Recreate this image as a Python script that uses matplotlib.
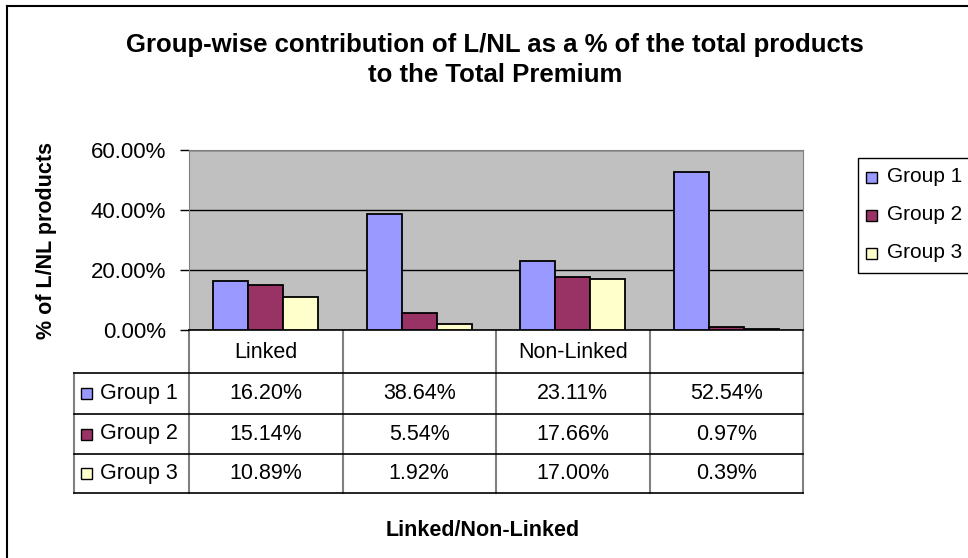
import matplotlib
matplotlib.use('Agg')
import matplotlib.pyplot as plt
import numpy as np
from matplotlib.patches import Rectangle
from matplotlib.ticker import PercentFormatter

plt.rcParams['font.family'] = ['Liberation Sans', 'DejaVu Sans']

# data
categories = ['Linked', '', 'Non-Linked', '']
groups = ['Group 1', 'Group 2', 'Group 3']
group1 = [16.20, 38.64, 23.11, 52.54]
group2 = [15.14, 5.54, 17.66, 0.97]
group3 = [10.89, 1.92, 17.00, 0.39]
yticks = [0, 20, 40, 60]

colors = ['#9999FF', '#993366', '#FFFFCC']
series = [group1, group2, group3]

W, H = 968, 558
fig = plt.figure(figsize=(W / 100, H / 100), dpi=100)

# overlay in pixel coords for frame, table and titles
ov = fig.add_axes([0, 0, 1, 1], zorder=0)
ov.set_xlim(0, W)
ov.set_ylim(H, 0)
ov.set_axis_off()

# outer chart frame (cropped on right and bottom)
ov.plot([7, 7], [6, H + 5], color='black', lw=1.5)
ov.plot([7, W + 5], [6, 6], color='black', lw=1.5)

# plot area
pl, pr, pt, pb = 189, 803, 150, 330
ax = fig.add_axes([pl / W, 1 - pb / H, (pr - pl) / W, (pb - pt) / H], zorder=2)
ax.set_facecolor('#C0C0C0')

n = len(categories)
x = np.arange(n)
bw = 0.228
for i, (vals, c) in enumerate(zip(series, colors)):
    ax.bar(x + (i - 1) * bw, np.array(vals) / 100, width=bw, color=c,
           edgecolor='black', linewidth=1.3, zorder=3)

ax.set_xlim(-0.5, n - 0.5)
ax.set_ylim(0, 0.6)
ax.set_yticks(np.array(yticks) / 100)
ax.yaxis.set_major_formatter(PercentFormatter(1, decimals=2))
ax.set_xticks([])
ax.grid(axis='y', color='black', lw=1.0, zorder=1)
ax.tick_params(axis='y', length=6.5, width=1, labelsize=16, pad=10)
for s in ['top', 'right']:
    ax.spines[s].set_color('#808080')
ax.spines['left'].set_color('#808080')
ax.spines['bottom'].set_color('black')
ax.spines['bottom'].set_linewidth(1.2)

fig.text(47 / W, 1 - 240 / H, '% of L/NL products', rotation=90, ha='center',
         va='center', fontsize=15.5, fontweight='bold')

fig.text(495 / W, 1 - 45 / H, 'Group-wise contribution of L/NL as a % of the total products',
         ha='center', va='center', fontsize=18.5, fontweight='bold')
fig.text(495 / W, 1 - 75 / H, 'to the Total Premium',
         ha='center', va='center', fontsize=18.5, fontweight='bold')

# data table below the plot
colw = (pr - pl) / n
row_tops = [330, 373, 414, 454, 493]
hdr_left = 74
gray = '#808080'
for k in range(n + 1):
    xe = pl + k * colw
    ov.plot([xe, xe], [row_tops[0], row_tops[-1]], color=gray, lw=1.5)
ov.plot([hdr_left, hdr_left], [row_tops[1], row_tops[-1]], color=gray, lw=1.5)
for yr in row_tops[1:]:
    ov.plot([hdr_left, pr], [yr, yr], color='black', lw=1.2)

for k, cat in enumerate(categories):
    ov.text(pl + (k + 0.5) * colw, (row_tops[0] + row_tops[1]) / 2 + 1, cat,
            ha='center', va='center', fontsize=15.5)

for r, (g, vals, c) in enumerate(zip(groups, series, colors)):
    yc = (row_tops[r + 1] + row_tops[r + 2]) / 2
    ov.add_patch(Rectangle((80.5, yc - 5.5), 11, 11, facecolor=c, edgecolor='black', lw=1))
    ov.text(100, yc, g, ha='left', va='center', fontsize=15.5)
    for k, v in enumerate(vals):
        ov.text(pl + (k + 0.5) * colw, yc, f'{v:.2f}%', ha='center', va='center',
                fontsize=15.5)

fig.text(483 / W, 1 - 530 / H, 'Linked/Non-Linked', ha='center', va='center',
         fontsize=15.5, fontweight='bold')

# legend box (runs off the right edge)
ov.add_patch(Rectangle((858, 158), 120, 115, facecolor='white', edgecolor='black',
                       lw=1, clip_on=False))
for r, (g, c) in enumerate(zip(groups, colors)):
    yc = 177 + r * 38
    ov.add_patch(Rectangle((866, yc - 5.5), 11, 11, facecolor=c, edgecolor='black', lw=1))
    ov.text(887, yc, g, ha='left', va='center', fontsize=15)

fig.savefig('out.png', dpi=100)
